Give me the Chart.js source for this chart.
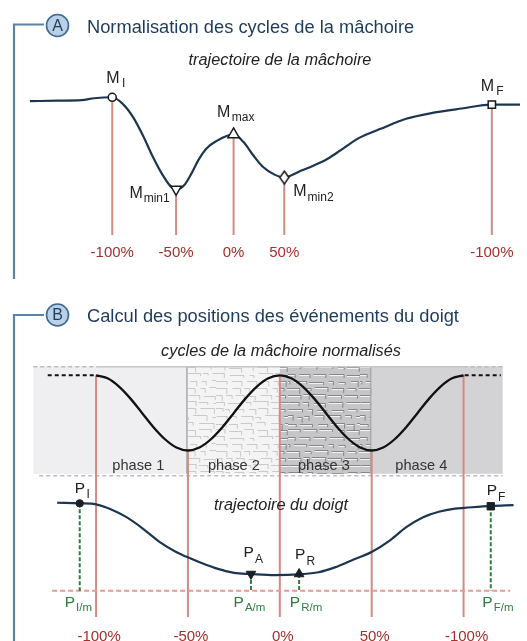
<!DOCTYPE html>
<html lang="fr">
<head>
<meta charset="UTF-8">
<title>Normalisation des cycles de la mâchoire</title>
<style>
  html, body { margin: 0; padding: 0; background: #fff; }
  #fig { display: block; }
</style>
</head>
<body>
<canvas id="fig" width="527" height="641"></canvas>
<script src="https://cdn.jsdelivr.net/npm/chart.js"></script>
<script>
// ---- A : jaw trajectory (time in ms, vertical position in mm) ----
const jawTime = [-169, -111, -63, -37, 0, 23, 43, 63, 83, 103, 119, 131, 149, 163, 177, 193, 213, 249, 269, 289, 309, 333, 353, 383, 417, 443, 469, 503, 517, 549, 603, 657, 717, 779, 837];
const jawPos  = [18.7, 18.8, 18.9, 19.3, 19.5, 18.0, 15.4, 11.7, 7.4, 3.7, 1.4, 0.7, 1.7, 4.0, 6.7, 9.0, 10.5, 11.9, 10.4, 7.7, 5.3, 3.7, 3.1, 4.3, 5.7, 7.0, 8.7, 11.0, 11.7, 13.0, 15.1, 16.3, 17.2, 18.0, 18.0];

// jaw events: M_I, M_min1, M_max, M_min2, M_F
const jawEventSub  = ['I', 'min1', 'max', 'min2', 'F'];
const jawEventTime = [0, 131, 249, 353, 779];
const jawEventPos  = [19.5, 0.7, 11.9, 3.1, 18.0];

// cycle percentages attached to the events
const cycleTicks      = [-100, -50, 0, 50, 100];
const cycleTickLabels = ['-100%', '-50%', '0%', '50%', '-100%'];
const cycleTickVal    = [1, 0, 1, 0, 1];

// ---- B : normalised jaw cycle (0 = closed, 1 = open) ----
const cyclePct = [-100, -93.75, -87.5, -81.25, -75, -68.75, -62.5, -56.25, -50, -43.75, -37.5, -31.25, -25, -18.75, -12.5, -6.25,
                  0, 6.25, 12.5, 18.75, 25, 31.25, 37.5, 43.75, 50, 56.25, 62.5, 68.75, 75, 81.25, 87.5, 93.75, 100];
const cycleVal = [1, 0.96, 0.85, 0.69, 0.5, 0.31, 0.15, 0.04, 0, 0.04, 0.15, 0.31, 0.5, 0.69, 0.85, 0.96,
                  1, 0.96, 0.85, 0.69, 0.5, 0.31, 0.15, 0.04, 0, 0.04, 0.15, 0.31, 0.5, 0.69, 0.85, 0.96, 1];
const phaseNames = ['phase 1', 'phase 2', 'phase 3', 'phase 4'];

// finger trajectory (cycle %, height in mm)
const fingerPct = [-121.2, -108.9, -100, -92.0, -83.2, -74.4, -65.5, -56.7, -51.0, -42.6, -33.7, -24.9, -15.7, -2.8,
                   10.5, 21.1, 29.9, 38.7, 50.2, 60.0, 68.8, 77.7, 86.5, 95.3, 100.6, 114.8, 127.2];
const fingerPos = [22.5, 22.35, 22.1, 20.85, 18.75, 15.85, 12.5, 10.0, 8.75, 7.1, 5.6, 4.6, 4.3, 4.0,
                   4.2, 4.75, 6.0, 7.7, 10.0, 12.9, 16.25, 18.75, 20.2, 21.0, 21.2, 21.7, 21.9];

// finger events: P_I, P_A, P_R, P_F
const fingerEventSub = ['I', 'A', 'R', 'F'];
const fingerEventPct = [-108.9, -15.7, 10.5, 114.8];
const fingerEventPos = [22.35, 4.3, 4.3, 21.6];

// ---- layout ----
const W = 527, H = 641;
const NAVY = '#1c3652', SALMON = '#d38a80', DARKRED = '#a5302b', GREEN = '#2e7d40';
const FONT = '"Liberation Sans", Arial, Helvetica, sans-serif';
const jawLineEnd = -8.66;      // mm, bottom of the event lines in A
const cycLineEnd = -2.214;     // cycle units, bottom of the event lines in B
const band = { left: -134.2, right: 121.3, top: 1.12, bottom: -0.31, rule: -0.335 };
const phaseLabelPct = [-77, -25, 24, 77];

function pairs(xs, ys) { return xs.map((x, i) => ({ x: x, y: ys[i] })); }

// vertical segments separated by gaps
function drops(xs, y0s, y1) {
  const out = [];
  xs.forEach((x, i) => {
    const from = Array.isArray(y0s) ? y0s[i] : y0s;
    out.push({ x: x, y: from }, { x: x, y: y1 }, { x: x, y: null });
  });
  return out;
}

function diamond(w, h) {
  const c = document.createElement('canvas');
  c.width = w + 4; c.height = h + 4;
  const g = c.getContext('2d');
  g.beginPath();
  g.moveTo(c.width / 2, 2); g.lineTo(c.width - 2, c.height / 2);
  g.lineTo(c.width / 2, c.height - 2); g.lineTo(2, c.height / 2); g.closePath();
  g.fillStyle = '#fff'; g.fill();
  g.lineWidth = 1.5; g.strokeStyle = '#1a1a1a'; g.stroke();
  return c;
}

// stone-like texture used for phases 2 and 3
function crackle(ctx, base, dark, light, seed) {
  const c = document.createElement('canvas');
  c.width = 72; c.height = 63;
  const g = c.getContext('2d');
  g.fillStyle = base; g.fillRect(0, 0, c.width, c.height);
  let s = seed;
  const rnd = () => { s = (s * 16807) % 2147483647; return (s - 1) / 2147483646; };
  g.lineWidth = 1;
  for (let row = 2; row < c.height; row += 7) {
    let x = -3 + rnd() * 4;
    while (x < c.width) {
      const len = 4 + rnd() * 11;
      const y = row + Math.round(rnd() * 2) + 0.5;
      if (light) {
        g.strokeStyle = light;
        g.beginPath(); g.moveTo(x, y + 1); g.lineTo(x + len, y + 1); g.stroke();
      }
      g.strokeStyle = dark;
      g.beginPath(); g.moveTo(x, y); g.lineTo(x + len, y);
      g.lineTo(x + len, y + 2 + rnd() * 4);
      g.stroke();
      x += len + 2 + rnd() * 4;
    }
  }
  return ctx.createPattern(c, 'repeat');
}

function subLabel(ctx, x, y, main, sub, color, size, subSize, drop, gap) {
  ctx.fillStyle = color;
  ctx.textAlign = 'left';
  ctx.textBaseline = 'alphabetic';
  ctx.font = size + 'px ' + FONT;
  ctx.fillText(main, x, y);
  const w = ctx.measureText(main).width;
  ctx.font = subSize + 'px ' + FONT;
  ctx.fillText(sub, x + w + gap, y + drop);
}

function badge(ctx, cx, cy, letter) {
  ctx.beginPath();
  ctx.arc(cx, cy, 11, 0, Math.PI * 2);
  ctx.fillStyle = '#b9d0e6'; ctx.fill();
  ctx.lineWidth = 1.6; ctx.strokeStyle = '#3d6891'; ctx.stroke();
  ctx.fillStyle = '#1f3d5c';
  ctx.font = '16px ' + FONT;
  ctx.textAlign = 'center'; ctx.textBaseline = 'middle';
  ctx.fillText(letter, cx, cy + 1);
}

// label offsets: [dx, baseline dy, subscript drop, gap]
const jawLabelOff = [[-6, -14.4, 4.4, 2.5], [-46.7, 9, 3.5, 1], [-16.7, -17.7, 4, 1.5], [9, 18.5, 4.5, 1], [-11, -14, 4.5, 2]];
const fingerLabelOff = [[-5, -10, 4.5, 1.5], [-7.4, -16.7, 6, 1], [-4, -15, 5.7, 1], [-4, -11, 5.7, 1]];
const fingerFootOff = [-15, -17.4, -9.3, -8.4];

const figurePlugin = {
  id: 'figure',
  beforeDatasetsDraw(chart) {
    const ctx = chart.ctx, xB = chart.scales.xB, yC = chart.scales.yC;
    const L = xB.getPixelForValue(band.left), R = xB.getPixelForValue(band.right);
    const T = yC.getPixelForValue(band.top), B = yC.getPixelForValue(band.bottom);
    const p = cycleTicks.map(v => xB.getPixelForValue(v));
    ctx.save();
    ctx.fillStyle = '#efeff1'; ctx.fillRect(L, T, p[1] - L, B - T);
    ctx.fillStyle = crackle(ctx, '#f4f4f5', 'rgba(135,135,140,0.38)', null, 7);
    ctx.fillRect(p[1], T, p[2] - p[1], B - T);
    ctx.fillStyle = crackle(ctx, '#c6c6c9', 'rgba(90,90,96,0.6)', 'rgba(250,250,250,0.85)', 31);
    ctx.fillRect(p[2], T, p[3] - p[2], B - T);
    ctx.fillStyle = '#d3d3d5'; ctx.fillRect(p[3], T, R - p[3], B - T);

    // phase borders
    ctx.strokeStyle = '#a9a9ab'; ctx.lineWidth = 1.5;
    [p[1], p[3]].forEach(x => { ctx.beginPath(); ctx.moveTo(x - 1, T); ctx.lineTo(x - 1, B); ctx.stroke(); });
    ctx.beginPath(); ctx.moveTo(p[0], T + 0.5); ctx.lineTo(p[4], T + 0.5); ctx.strokeStyle = '#c6c6c8'; ctx.stroke();
    ctx.setLineDash([4, 3]);
    ctx.strokeStyle = '#bdbdbf';
    ctx.beginPath(); ctx.moveTo(L, T + 0.5); ctx.lineTo(p[0], T + 0.5); ctx.stroke();
    ctx.beginPath(); ctx.moveTo(p[4], T + 0.5); ctx.lineTo(R, T + 0.5); ctx.stroke();
    const rule = yC.getPixelForValue(band.rule);
    ctx.beginPath(); ctx.moveTo(L + 6, rule); ctx.lineTo(R, rule); ctx.stroke();
    ctx.setLineDash([]);

    ctx.fillStyle = '#333';
    ctx.font = '14.6px ' + FONT;
    ctx.textAlign = 'center'; ctx.textBaseline = 'alphabetic';
    phaseNames.forEach((n, i) => ctx.fillText(n, xB.getPixelForValue(phaseLabelPct[i]), 470));
    ctx.restore();
  },
  afterDatasetsDraw(chart) {
    const ctx = chart.ctx, s = chart.scales;
    ctx.save();

    // brackets
    ctx.strokeStyle = '#5b82a8'; ctx.lineWidth = 2.2;
    ctx.beginPath(); ctx.moveTo(44, 24.5); ctx.lineTo(14, 24.5); ctx.lineTo(14, 279); ctx.stroke();
    ctx.beginPath(); ctx.moveTo(44, 315); ctx.lineTo(14, 315); ctx.lineTo(14, H); ctx.stroke();
    badge(ctx, 57.5, 25.5, 'A');
    badge(ctx, 57.5, 315, 'B');

    ctx.fillStyle = '#1f3b5a';
    ctx.font = '18.3px ' + FONT;
    ctx.textAlign = 'left'; ctx.textBaseline = 'alphabetic';
    ctx.fillText('Normalisation des cycles de la mâchoire', 87, 32.5);
    ctx.fillText('Calcul des positions des événements du doigt', 87, 322);

    ctx.fillStyle = '#222';
    ctx.font = 'italic 16.3px ' + FONT;
    ctx.textAlign = 'center';
    ctx.fillText('trajectoire de la mâchoire', 280, 65);
    ctx.fillText('cycles de la mâchoire normalisés', 281, 356);
    ctx.fillText('trajectoire du doigt', 281, 510);

    // jaw event labels and percentages
    jawEventTime.forEach((t, i) => {
      const x = s.xA.getPixelForValue(t), y = s.yA.getPixelForValue(jawEventPos[i]);
      const o = jawLabelOff[i];
      subLabel(ctx, x + o[0], y + o[1], 'M', jawEventSub[i], '#222', 16, 12, o[2], o[3]);
      ctx.fillStyle = DARKRED; ctx.font = '15px ' + FONT; ctx.textAlign = 'center';
      ctx.fillText(cycleTickLabels[i], x, 256.5);
    });

    // finger event labels
    const zero = s.yF.getPixelForValue(0);
    fingerEventPct.forEach((p, i) => {
      const x = s.xB.getPixelForValue(p), y = s.yF.getPixelForValue(fingerEventPos[i]);
      const o = fingerLabelOff[i];
      subLabel(ctx, x + o[0], y + o[1], 'P', fingerEventSub[i], '#222', 15.5, 12, o[2], o[3]);
      subLabel(ctx, x + fingerFootOff[i], zero + 16, 'P', fingerEventSub[i] + '/m', GREEN, 15.5, 11.5, 4.6, 1);
    });

    ctx.fillStyle = DARKRED; ctx.font = '15px ' + FONT; ctx.textAlign = 'center';
    cycleTicks.forEach((v, i) => ctx.fillText(cycleTickLabels[i], s.xB.getPixelForValue(v) + 3, 640.5));
    ctx.restore();
  }
};

const ctx = document.getElementById('fig');
new Chart(ctx, {
  type: 'line',
  data: {
    datasets: [
      {
        label: 'événements mâchoire',
        data: pairs(jawEventTime, jawEventPos),
        xAxisID: 'xA', yAxisID: 'yA',
        showLine: false, order: 0,
        pointStyle: ['circle', 'triangle', 'triangle', diamond(9, 13), 'rect'],
        pointRotation: [0, 180, 0, 0, 0],
        pointRadius: [4, 6, 6.5, 6, 5.2],
        pointBackgroundColor: '#fff', pointBorderColor: '#1a1a1a', pointBorderWidth: 1.5
      },
      {
        label: 'événements doigt',
        data: pairs(fingerEventPct, fingerEventPos),
        xAxisID: 'xB', yAxisID: 'yF',
        showLine: false, order: 0,
        pointStyle: ['circle', 'triangle', 'triangle', 'rect'],
        pointRotation: [0, 180, 0, 0],
        pointRadius: [3.7, 5.5, 5.5, 5.2],
        pointBackgroundColor: '#1a1f26', pointBorderColor: '#1a1f26', pointBorderWidth: 1
      },
      {
        label: 'trajectoire de la mâchoire',
        data: pairs(jawTime, jawPos),
        xAxisID: 'xA', yAxisID: 'yA', order: 1,
        borderColor: NAVY, borderWidth: 2.2, pointRadius: 0,
        cubicInterpolationMode: 'monotone'
      },
      {
        label: 'cycle normalisé',
        data: pairs(cyclePct, cycleVal),
        xAxisID: 'xB', yAxisID: 'yC', order: 1,
        borderColor: '#111', borderWidth: 2.3, pointRadius: 0,
        cubicInterpolationMode: 'monotone'
      },
      {
        label: 'cycle prolongé',
        data: [{ x: -126.3, y: 1 }, { x: -100.9, y: 1 }, { x: -100.5, y: null }, { x: 100.6, y: 1 }, { x: 120.3, y: 1 }],
        xAxisID: 'xB', yAxisID: 'yC', order: 1,
        borderColor: '#111', borderWidth: 2, borderDash: [4, 3], pointRadius: 0
      },
      {
        label: 'trajectoire du doigt',
        data: pairs(fingerPct, fingerPos),
        xAxisID: 'xB', yAxisID: 'yF', order: 1,
        borderColor: NAVY, borderWidth: 2.2, pointRadius: 0,
        cubicInterpolationMode: 'monotone'
      },
      {
        label: 'projections',
        data: drops(fingerEventPct, fingerEventPos, 0),
        xAxisID: 'xB', yAxisID: 'yF', order: 2,
        borderColor: GREEN, borderWidth: 2, borderDash: [4, 2], pointRadius: 0, spanGaps: false
      },
      {
        label: 'référence',
        data: [{ x: -123.9, y: 0 }, { x: 125.4, y: 0 }],
        xAxisID: 'xB', yAxisID: 'yF', order: 3,
        borderColor: '#e39a92', borderWidth: 2, borderDash: [5, 3], pointRadius: 0
      },
      {
        label: 'repères A',
        data: drops(jawEventTime, jawEventPos, jawLineEnd),
        xAxisID: 'xA', yAxisID: 'yA', order: 4,
        borderColor: SALMON, borderWidth: 2, pointRadius: 0, spanGaps: false
      },
      {
        label: 'repères B',
        data: drops(cycleTicks, cycleTickVal, cycLineEnd),
        xAxisID: 'xB', yAxisID: 'yC', order: 4,
        borderColor: SALMON, borderWidth: 2, pointRadius: 0, spanGaps: false
      }
    ]
  },
  options: {
    responsive: false,
    animation: false,
    devicePixelRatio: 1,
    events: [],
    layout: { padding: 0 },
    plugins: { legend: { display: false }, tooltip: { enabled: false }, title: { display: false } },
    scales: {
      xA: { type: 'linear', axis: 'x', position: 'bottom', display: false, min: -216.6, max: 837.4 },
      yA: { type: 'linear', axis: 'y', position: 'left', display: false, min: -90.2, max: 38 },
      xB: { type: 'linear', axis: 'x', position: 'bottom', display: false, min: -148.63, max: 130.87 },
      yC: { type: 'linear', axis: 'y', position: 'left', display: false, min: -2.444, max: 5.902 },
      yF: { type: 'linear', axis: 'y', position: 'left', display: false, min: -11.1, max: 149.2 }
    }
  },
  plugins: [figurePlugin]
});
</script>
</body>
</html>
